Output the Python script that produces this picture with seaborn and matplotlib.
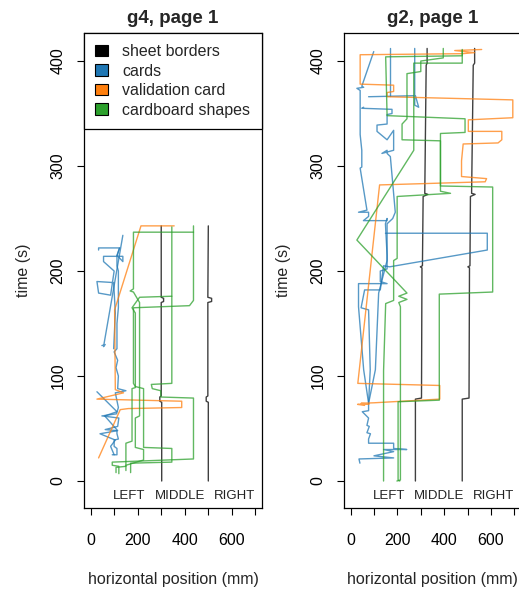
import pandas as pd
import matplotlib
matplotlib.use("Agg")
import matplotlib.pyplot as plt
from matplotlib.patches import Patch
import seaborn as sns

# ---- data: (horizontal position mm, time s) per tracked object ----
kinds = ['sheet borders', 'cards', 'validation card', 'cardboard shapes']
colors = ['black', '#1f77b4', '#ff7f0e', '#2ca02c']
zone_names = ['LEFT', 'MIDDLE', 'RIGHT']
zone_x = [165, 378, 611]
x_ticks = [0, 100, 200, 300, 400, 500, 600, 700]
y_ticks = [0, 100, 200, 300, 400]

# g4, page 1
g4_sheet_1 = [(302, 0), (302, 75), (294, 76), (294, 80), (300, 81), (300, 170),
              (310, 171), (310, 174), (300, 175), (300, 243)]
g4_sheet_2 = [(500, 0), (500, 75), (491, 76), (491, 80), (498, 81), (498, 170),
              (514, 171), (514, 174), (498, 175), (500, 243)]
g4_cards_1 = [(92, 25), (112, 25), (112, 31), (100, 33), (100, 39), (118, 40), (112, 45),
              (112, 48), (62, 49), (115, 52), (120, 60), (48, 62), (110, 64), (118, 70),
              (105, 84), (150, 86), (115, 88), (118, 100), (108, 108), (115, 115),
              (100, 123), (112, 126), (112, 150), (118, 165), (118, 200), (112, 205),
              (112, 214), (123, 222)]
g4_cards_2 = [(48, 129), (62, 130), (55, 128), (137, 234)]
g4_cards_3 = [(98, 126), (105, 160), (98, 189), (27, 190), (34, 179), (85, 177),
              (100, 200), (55, 209), (55, 214), (137, 214), (137, 209), (112, 215),
              (123, 222), (34, 222), (34, 220)]
g4_cards_4 = [(27, 85), (112, 66), (60, 62), (115, 48), (40, 45), (105, 39), (85, 33), (100, 25)]
g4_valid_1 = [(34, 22), (126, 68), (160, 69), (387, 70), (387, 76), (27, 78), (140, 84),
              (105, 87), (102, 163), (214, 243), (355, 243)]
g4_shape_1 = [(120, 7), (120, 14), (92, 15), (92, 18), (437, 21), (437, 79), (298, 80),
              (298, 86), (262, 88), (258, 92), (345, 93), (345, 242)]
g4_shape_2 = [(170, 8), (170, 17), (345, 18), (345, 31), (225, 32), (225, 88), (190, 90),
              (182, 93), (182, 165), (420, 167), (437, 172), (437, 243)]
g4_shape_3 = [(108, 8), (108, 13), (150, 14), (150, 36), (176, 38), (176, 88), (190, 89),
              (190, 160), (176, 165), (208, 175), (345, 176)]
g4_shape_4 = [(150, 10), (150, 15), (225, 20), (225, 30), (190, 32), (190, 60), (208, 62),
              (208, 170), (182, 180), (168, 181), (182, 183), (182, 237), (437, 237)]

# g2, page 1
g2_sheet_1 = [(277, 0), (277, 78), (303, 79), (305, 203), (298, 204), (307, 205),
              (310, 271), (330, 273), (317, 274), (323, 396), (327, 398), (327, 412)]
g2_sheet_2 = [(477, 0), (477, 78), (506, 79), (508, 203), (501, 204), (510, 205),
              (512, 271), (532, 273), (517, 274), (524, 396), (530, 398), (530, 412)]
g2_cards_1 = [(40, 17), (36, 21), (184, 22), (100, 24), (184, 28), (141, 30), (240, 30),
              (184, 31), (184, 36), (77, 36), (77, 40), (85, 45), (70, 46), (80, 52),
              (70, 53), (77, 60), (50, 66), (77, 67), (77, 74), (56, 106), (34, 166),
              (34, 188), (156, 188), (127, 190), (127, 200), (156, 202), (156, 215),
              (149, 245), (156, 250)]
g2_cards_2 = [(77, 74), (84, 106), (77, 163), (45, 165), (60, 182), (127, 182), (141, 205),
              (167, 204), (584, 220), (584, 236), (149, 236)]
g2_cards_3 = [(77, 74), (106, 106), (120, 179), (156, 210), (156, 245), (180, 250),
              (191, 256), (170, 309), (156, 312), (156, 315), (134, 312), (184, 315),
              (184, 334), (156, 325), (113, 333), (113, 339), (156, 340), (156, 349),
              (177, 350), (177, 354), (48, 355), (56, 356)]
g2_cards_4 = [(156, 250), (156, 248), (55, 248), (77, 252), (77, 256), (34, 256), (70, 258),
              (41, 298), (48, 299), (48, 315), (41, 330), (41, 372), (27, 374), (56, 375),
              (48, 376), (99, 409)]
g2_cards_5 = [(77, 366), (277, 367), (291, 356), (274, 358), (274, 412)]
g2_cards_6 = [(170, 367), (170, 412)]
g2_valid_1 = [(60, 72), (30, 73), (80, 73.5), (45, 74), (100, 74.5), (381, 78), (381, 91),
              (31, 93), (124, 282), (575, 285), (581, 288), (474, 290), (474, 305),
              (481, 321), (630, 322), (646, 325), (646, 333), (503, 333), (503, 344),
              (693, 346), (693, 363), (156, 366), (156, 370), (184, 371), (184, 377),
              (41, 378), (41, 406), (477, 407), (530, 408), (445, 410), (560, 411)]
g2_shape_1 = [(210, 0), (203, 1), (203, 75.5), (379, 77), (379, 178), (607, 180),
              (607, 280), (384, 281), (384, 331), (489, 332), (489, 345), (156, 348),
              (150, 404), (477, 405), (477, 411)]
g2_shape_2 = [(141, 0), (141, 105), (150, 169), (184, 172), (184, 210), (199, 212),
              (199, 271), (427, 274), (384, 276), (384, 324), (220, 325), (220, 340),
              (241, 345), (241, 388), (300, 390), (300, 400), (396, 403), (396, 412)]
g2_shape_3 = [(198, 0), (213, 1), (213, 166), (206, 170), (241, 173), (206, 176),
              (241, 179), (27, 229.5), (270, 315), (270, 340), (270, 398), (477, 398),
              (477, 410)]

panels = {
    'g4, page 1': {
        'sheet borders': [g4_sheet_1, g4_sheet_2],
        'cards': [g4_cards_1, g4_cards_2, g4_cards_3, g4_cards_4],
        'validation card': [g4_valid_1],
        'cardboard shapes': [g4_shape_1, g4_shape_2, g4_shape_3, g4_shape_4],
    },
    'g2, page 1': {
        'sheet borders': [g2_sheet_1, g2_sheet_2],
        'cards': [g2_cards_1, g2_cards_2, g2_cards_3, g2_cards_4, g2_cards_5, g2_cards_6],
        'validation card': [g2_valid_1],
        'cardboard shapes': [g2_shape_1, g2_shape_2, g2_shape_3],
    },
}


def to_frame(groups):
    rows = []
    for kind, traces in groups.items():
        for i, tr in enumerate(traces):
            for x, t in tr:
                rows.append({'x': x, 't': t, 'kind': kind, 'trace': f'{kind}-{i}'})
    return pd.DataFrame(rows)


sns.set_theme(style="white")
plt.rcParams['font.family'] = ['Liberation Sans', 'DejaVu Sans']

fig = plt.figure(figsize=(5.19, 5.89), dpi=100)
W, H = 519, 589
boxes = [(84, 178), (344, 177)]
top, bottom = 33, 508

for (title, groups), (left, width) in zip(panels.items(), boxes):
    ax = fig.add_axes([left / W, (H - bottom) / H, width / W, (bottom - top) / H])
    df = to_frame(groups)
    sns.lineplot(data=df, x='x', y='t', hue='kind', units='trace', estimator=None,
                 sort=False, hue_order=kinds, palette=dict(zip(kinds, colors)),
                 legend=False, ax=ax, lw=1.0, alpha=0.75)
    ax.set_xlim(-28, 728)
    ax.set_ylim(-25.7, 426.7)
    ax.set_xticks(x_ticks)
    ax.set_xticklabels([str(v) if v % 200 == 0 else '' for v in x_ticks])
    ax.set_yticks(y_ticks)
    ax.set_yticklabels([str(v) for v in y_ticks], rotation=90, va='center')
    ax.tick_params(direction='out', length=5, width=0.8, colors='black',
                   labelsize=11.5, bottom=True, left=True)
    ax.tick_params(axis='x', pad=13)
    ax.tick_params(axis='y', pad=8.5)
    for sp in ax.spines.values():
        sp.set_color('black')
        sp.set_linewidth(0.9)
    ax.set_xlabel('horizontal position (mm)', fontsize=11.5, labelpad=17)
    ax.set_ylabel('time (s)', fontsize=11.5, labelpad=14)
    ax.set_title(title, fontsize=13.5, fontweight='bold', pad=7)
    for name, xz in zip(zone_names, zone_x):
        ax.text(xz, -14, name, ha='center', va='center', fontsize=9.5, color='#222222')

    if title.startswith('g4'):
        handles = [Patch(facecolor=c, edgecolor='black', lw=0.8) for c in colors]
        leg = ax.legend(handles, kinds, loc='upper left', bbox_to_anchor=(0, 1, 1, 0),
                        mode='expand', borderaxespad=0, fontsize=11.5, frameon=True,
                        fancybox=False, framealpha=1, edgecolor='black',
                        handlelength=0.8, handleheight=0.75, handletextpad=0.9,
                        labelspacing=0.28, borderpad=0.7)
        leg.get_frame().set_linewidth(0.9)

fig.savefig('out.png', dpi=100)
